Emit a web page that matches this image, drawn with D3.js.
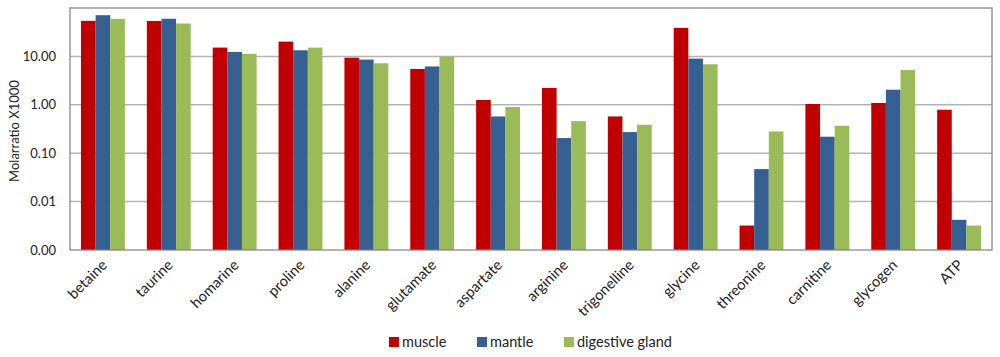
<!DOCTYPE html>
<html>
<head>
<meta charset="utf-8">
<script src="https://cdn.jsdelivr.net/npm/d3@7"></script>
<style>
    body { margin: 0; background: #fff; }
    text { font-family: Lato, "Open Sans", sans-serif; fill: #222; }
</style>
</head>
<body>
<div id="chart"></div>
<script>
// Data
const categories = ['betaine', 'taurine', 'homarine', 'proline', 'alanine', 'glutamate', 'aspartate',
    'arginine', 'trigonelline', 'glycine', 'threonine', 'carnitine', 'glycogen', 'ATP'];
const seriesNames = ['muscle', 'mantle', 'digestive gland'];
const muscle = [54.3, 54, 15.2, 20.2, 9.4, 5.5, 1.26, 2.23, 0.575, 38.9, 0.0032, 1.04, 1.09, 0.79];
const mantle = [71, 60, 12.4, 13.4, 8.6, 6.2, 0.575, 0.205, 0.273, 9.0, 0.047, 0.219, 2.05, 0.0042];
const digestive = [59.7, 47.8, 11.3, 15.2, 7.2, 9.9, 0.9, 0.46, 0.387, 6.87, 0.282, 0.369, 5.25, 0.0032];
const yTicks = [0.001, 0.01, 0.1, 1, 10];
const colors = ['#c00000', '#376092', '#9bbb59'];

// Constants
const WIDTH = 1000;
const HEIGHT = 357;
const LEFT = 70, RIGHT = 992, TOP = 8, BOTTOM = 250;

const svg = d3.select('#chart').append('svg')
    .attr('width', WIDTH).attr('height', HEIGHT);

const x = d3.scaleBand().domain(categories).range([LEFT, RIGHT]).paddingInner(1.5 / 4.5).paddingOuter(0.75 / 4.5);
const y = d3.scaleLog().domain([0.001, 100]).range([BOTTOM, TOP]);
const barW = x.bandwidth() / 3;

// Gridlines
svg.append('g')
    .selectAll('line')
    .data(yTicks.filter(d => d > 0.001))
    .join('line')
    .attr('x1', LEFT).attr('x2', RIGHT)
    .attr('y1', d => y(d)).attr('y2', d => y(d))
    .attr('stroke', '#b4b4b4').attr('stroke-width', 1.5);

// Bars
const values = [muscle, mantle, digestive];
values.forEach((arr, s) => {
    svg.append('g')
        .selectAll('rect')
        .data(arr)
        .join('rect')
        .attr('x', (d, i) => x(categories[i]) + s * barW)
        .attr('y', d => y(d))
        .attr('width', barW)
        .attr('height', d => BOTTOM - y(d))
        .attr('fill', colors[s]);
});

// Plot frame
svg.append('rect')
    .attr('x', LEFT).attr('y', TOP)
    .attr('width', RIGHT - LEFT).attr('height', BOTTOM - TOP)
    .attr('fill', 'none').attr('stroke', '#808080').attr('stroke-width', 1.2);

// Y axis
const yAxis = d3.axisLeft(y).tickValues(yTicks).tickSize(0).tickPadding(14)
    .tickFormat(d => d.toFixed(2));
svg.append('g')
    .attr('transform', `translate(${LEFT},0)`)
    .call(yAxis)
    .call(g => g.select('.domain').remove())
    .selectAll('text')
    .attr('font-size', 13)
    .style('font-family', 'Lato, sans-serif');

svg.append('text')
    .attr('transform', `translate(19,${(TOP + BOTTOM) / 2 + 2}) rotate(-90)`)
    .attr('text-anchor', 'middle')
    .attr('font-size', 13)
    .text('Molarratio X1000');

// X labels
svg.append('g')
    .selectAll('text')
    .data(categories)
    .join('text')
    .attr('transform', d => `translate(${x(d) + x.bandwidth() / 2 + 5},${BOTTOM + 16}) rotate(-45)`)
    .attr('text-anchor', 'end')
    .attr('font-size', 14.7)
    .text(d => d);

// Legend
const legendX = [389, 477, 564];
const legend = svg.append('g');
seriesNames.forEach((name, i) => {
    legend.append('rect')
        .attr('x', legendX[i]).attr('y', 337)
        .attr('width', 10).attr('height', 10)
        .attr('fill', colors[i]);
    legend.append('text')
        .attr('x', legendX[i] + 13).attr('y', 347)
        .attr('font-size', 14.5)
        .text(name);
});
</script>
</body>
</html>
